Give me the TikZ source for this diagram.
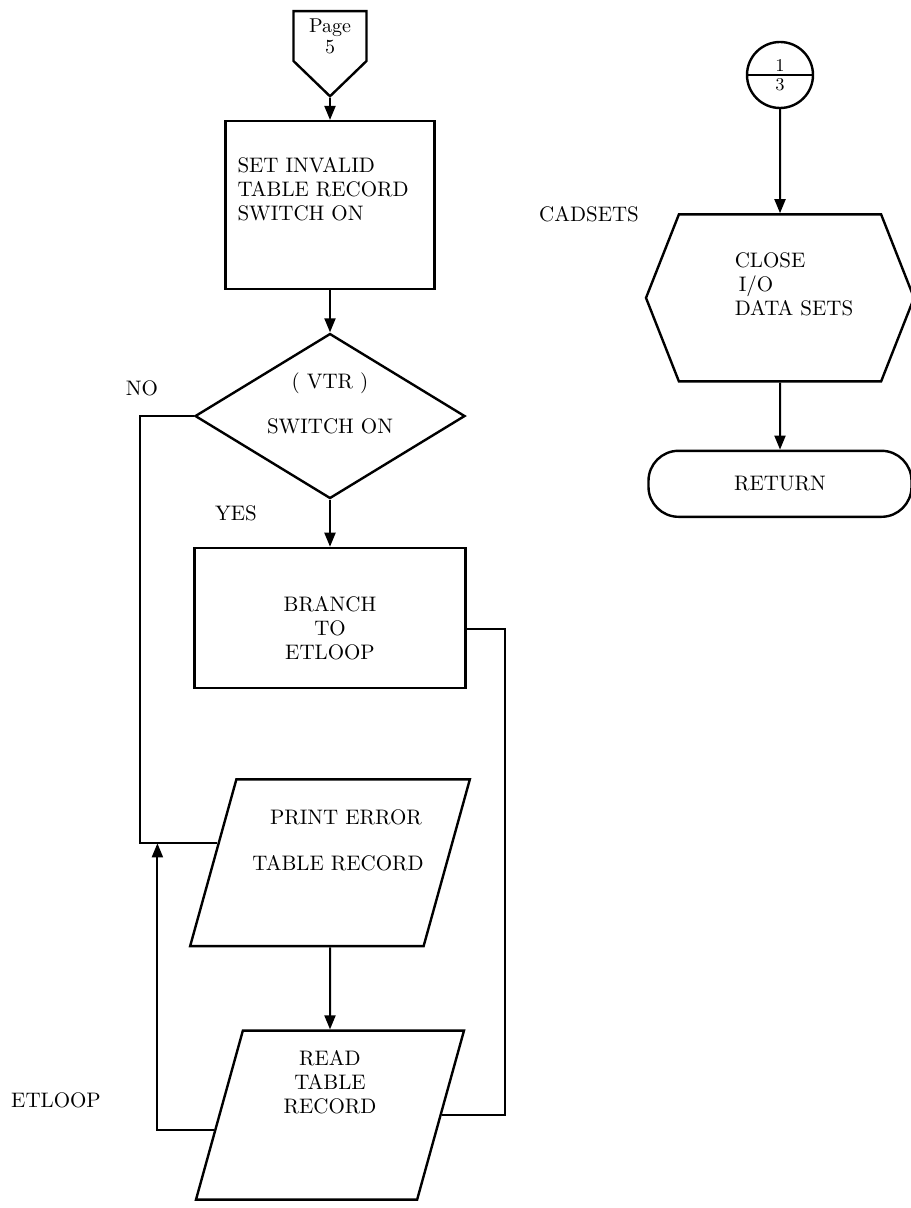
\documentclass[tikz,border=0pt]{standalone}
\usepackage{tikz}
\usetikzlibrary{shapes.geometric, shapes.symbols, shapes.multipart,
                arrows.meta, positioning, calc}

\begin{document}
\begin{tikzpicture}[x=0.5pt, y=-0.5pt, node distance=12pt,
                    font=\fontsize{10.5}{12}\selectfont]
    \tikzstyle{procbox}=[rectangle, draw, line width=1.2pt, minimum width=104.5pt,
                         minimum height=84pt, align=center, inner sep=3pt]
    \tikzstyle{decision}=[diamond, draw, line width=1.2pt, inner sep=0pt,
                          shape aspect=1.65, minimum width=135pt,
                          minimum height=82.5pt, align=center]
    \tikzstyle{iobox}=[trapezium, trapezium left angle=74.5,
                       trapezium right angle=105.5, trapezium stretches body=true,
                       draw, line width=1.2pt, inner xsep=0pt, align=center,
                       minimum width=136.5pt, minimum height=83pt]
    \tikzstyle{offpage}=[signal, signal to=south, signal from=nowhere,
                         signal pointer angle=92, draw, line width=1.2pt,
                         minimum width=36.5pt, minimum height=36pt, align=center,
                         inner sep=1pt, font=\fontsize{10}{10.5}\selectfont]
    \tikzstyle{prep}=[signal, signal to=east and west, signal pointer angle=137,
                      draw, line width=1.2pt, minimum width=134pt,
                      minimum height=83.5pt, align=left, inner sep=0pt]
    \tikzstyle{onpage}=[circle split, draw, line width=1.2pt, minimum size=33pt,
                        inner sep=1pt, font=\fontsize{9}{10}\selectfont]
    \tikzstyle{term}=[rectangle, rounded corners=15pt, draw, line width=1.2pt,
                      minimum width=131.5pt, minimum height=33pt]
    \tikzstyle{lbl}=[inner sep=0pt]
    \tikzstyle{conn}=[line width=1pt]
    \tikzstyle{arr}=[-{Triangle[length=7pt, width=5.5pt]}, line width=1pt]

    \useasboundingbox (0,0) rectangle (910,1208);

    % main column
    \node[offpage, anchor=north] (pg) at (330,10) {Page\\5};
    \node[procbox, below=11pt of pg, text width=92.5pt, inner xsep=6pt,
          align=left] (set) {SET INVALID\\TABLE RECORD\\SWITCH ON\\[4pt]\mbox{}};
    \node[decision, below=21pt of set] (vtr) {( VTR )\\[10.5pt]SWITCH ON\\[1pt]\mbox{}};
    \node[procbox, below=23.5pt of vtr, minimum width=135.5pt,
          minimum height=70pt] (branch) {\mbox{}\\[5.4pt]BRANCH\\TO\\ETLOOP};
    \node[iobox, below=44.5pt of branch, inner ysep=15pt] (print)
          {\hspace*{8pt}PRINT ERROR\hspace*{-8pt}\\[11pt]%
           \hspace*{8pt}TABLE RECORD\hspace*{-8pt}\\[11pt]\mbox{}};
    \node[iobox, below=41pt of print, minimum width=134pt, minimum height=84.5pt,
          inner ysep=10pt] (read) {READ\\TABLE\\RECORD\\[21pt]\mbox{}};

    % right column
    \node[onpage] (circ) at (780,75) {1\nodepart{lower}3};
    \node[prep, below=52pt of circ] (close)
          {\hspace*{14pt}CLOSE\\\hspace*{16pt}I/O\\\hspace*{14pt}DATA SETS\\[1.5pt]\mbox{}};
    \node[term, below=33.5pt of close] (ret) {RETURN};

    % labels
    \node[lbl] (no)  at (142,388)  {NO};
    \node[lbl] (yes) at (236,513)  {YES};
    \node[lbl] (etl) at (56,1100)  {ETLOOP};
    \node[lbl] (cad) at (589,214)  {CADSETS};

    % flow
    \draw[arr] (pg.south) -- (set.north);
    \draw[arr] (set) -- (vtr);
    \draw[arr] (vtr) -- (branch);
    \draw[arr] (print) -- (read);
    \draw[arr] (circ) -- (close);
    \draw[arr] (close) -- (ret);

    % loops
    \coordinate (printl) at ($(print.top left corner)!0.385!(print.bottom left corner)$);
    \coordinate (readl) at ($(read.top left corner)!0.586!(read.bottom left corner)$);
    \draw[conn] (vtr.west) -- ++(-54,0) |- (printl);
    \draw[arr] (readl) -| ($(printl)+(-60,0)$);
    \draw[conn] ($(branch.east)+(0,11)$) -| ($(read.east)+(63,0)$) -- (read.east);
\end{tikzpicture}
\end{document}
